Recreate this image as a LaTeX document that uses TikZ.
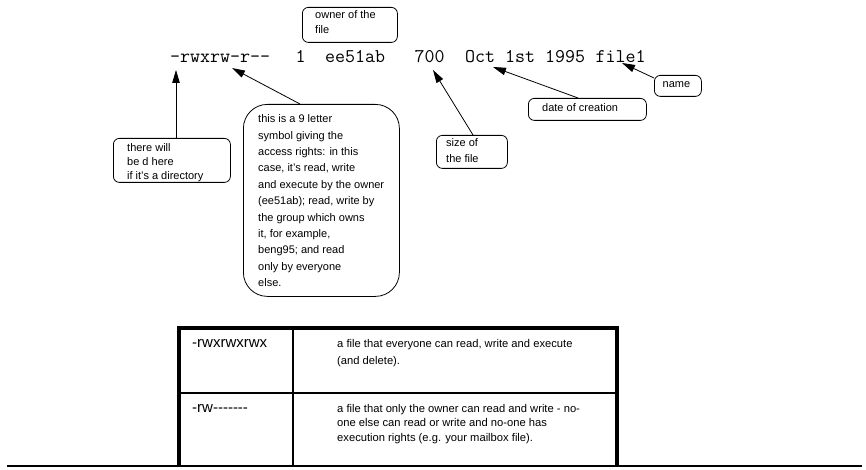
\documentclass[tikz,border=0pt]{standalone}
\usepackage{fontspec}
\setmainfont{Liberation Sans}
\usetikzlibrary{arrows.meta,calc}
\tikzset{
  callout/.style={draw, line width=0.8pt, rounded corners=6pt, inner sep=0pt, anchor=north west},
  boxtext/.style={anchor=north west, inner sep=0pt, align=left},
  mono/.style={anchor=base west, inner sep=0pt, font=\ttfamily\fontsize{19.4}{22}\selectfont},
  arr/.style={-{Triangle[length=13pt,width=7.5pt]}, line width=0.8pt},
  cell/.style={anchor=base west, inner sep=0pt, align=left},
  thickrule/.style={line width=3.2pt},
  thinrule/.style={line width=1.3pt},
}
\begin{document}
\begin{tikzpicture}[x=1pt,y=-1pt]
\path[use as bounding box] (0,0) rectangle (866,470);

% the listing line
\node[mono] (perm)  at (170,63) {-rwxrw-r{-}{-}};
\node[mono] (links) at (295.5,63) {1};
\node[mono] (owner) at (325,63) {ee51ab};
\node[mono] (size)  at (414.5,63) {700};
\node[mono] (date)  at (465,63) {Oct 1st 1995};
\node[mono] (fname) at (595.5,63) {file1};

% callout boxes
\node[callout, minimum width=95pt, minimum height=35pt] (ownerbox) at (302,7) {};
\node[boxtext, font=\fontsize{11}{15}\selectfont] (ownertext) at (315,10.5) {owner of the\\file};

\node[callout, minimum width=117pt, minimum height=44pt] (dirbox) at (113,138) {};
\node[boxtext, font=\fontsize{11}{14}\selectfont] (dirtext) at (127,143.5) {there will\\be d here\\if it's a directory};

\node[callout, rounded corners=24pt, minimum width=156pt, minimum height=192pt] (bigbox) at (243,104) {};
\node[boxtext, font=\fontsize{11}{16.4}\selectfont] (bigtext) at (258,114.5) {this is a 9 letter\\symbol giving the\\access rights: in this\\case, it's read, write\\and execute by the owner\\(ee51ab); read, write by\\the group which owns\\it, for example,\\beng95; and read\\only by everyone\\else.};

\node[callout, minimum width=71pt, minimum height=33pt] (sizebox) at (436,135) {};
\node[boxtext, font=\fontsize{11}{16}\selectfont] (sizetext) at (446,138.5) {size of\\the file};

\node[callout, minimum width=118pt, minimum height=22pt] (datebox) at (528,98) {};
\node[boxtext, font=\fontsize{11}{14}\selectfont] (datetext) at (542,103.5) {date of creation};

\node[callout, minimum width=47pt, minimum height=21pt] (namebox) at (654,75) {};
\node[boxtext, font=\fontsize{11}{14}\selectfont] (nametext) at (662.5,81.5) {name};

% arrows
\coordinate (tipperm) at (176,70);
\coordinate (tiprw)   at (232,68);
\coordinate (tipsize) at (433,70);
\coordinate (tipdate) at (493,67);
\coordinate (tipname) at (622,63);
\draw[arr] (dirbox.north -| tipperm) -- (tipperm);
\draw[arr] ($(bigbox.north west)+(57,0)$) -- (tiprw);
\draw[arr] ($(sizebox.north west)+(37,0)$) -- (tipsize);
\draw[arr] ($(datebox.north west)+(50,0)$) -- (tipdate);
\draw[arr] ($(namebox.north west)+(0,3)$) -- (tipname);

% table
\coordinate (tl) at (179,328);
\coordinate (tr) at (617,328);
\coordinate (bl) at (179,466);
\coordinate (br) at (617,466);
\coordinate (colt) at (293,328);
\coordinate (colb) at (293,466);
\coordinate (ml) at (179,393);
\coordinate (mr) at (617,393);
\coordinate (baseL) at (7,466);
\coordinate (baseR) at (862,466);
\draw[thickrule] (bl) -- (tl) -- (tr) -- (br);
\draw[thinrule] (colt) -- (colb);
\draw[line width=2pt] (ml) -- (mr);
\draw[thinrule] (baseL) -- (baseR);

\node[cell, font=\fontsize{15}{17}\selectfont] (c11) at (192,347.5) {-rwxrwxrwx};
\node[cell, font=\fontsize{11.2}{17}\selectfont] (c12) at (337,364) {a file that everyone can read, write and execute\\(and delete).};
\node[cell, font=\fontsize{15}{17}\selectfont] (c21) at (192,412.5) {-rw{-}{-}{-}{-}{-}{-}{-}};
\node[cell, font=\fontsize{11.2}{14.6}\selectfont] (c22) at (337,441.2) {a file that only the owner can read and write - no-\\one else can read or write and no-one has\\execution rights (e.g. your mailbox file).};
\end{tikzpicture}
\end{document}
